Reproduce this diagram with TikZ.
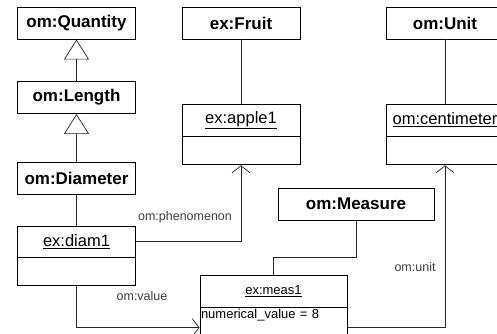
\documentclass[tikz,border=0pt]{standalone}
\usepackage{fontspec}
\setmainfont{Liberation Sans}
\usepackage{tikz}
\usetikzlibrary{positioning, calc, arrows, arrows.meta}
\tikzset{>=latex}

\begin{document}
\begin{tikzpicture}[x=1pt,y=-1pt,
    cls/.style={draw,line width=0.9pt,minimum width=118pt,minimum height=32pt,inner sep=0pt,font=\fontsize{17}{19}\selectfont\bfseries},
    inst/.style={draw,line width=0.9pt,minimum width=118pt,minimum height=32pt,inner sep=0pt,font=\fontsize{16.5}{18}\selectfont},
    body/.style={draw,line width=0.9pt,minimum width=118pt,minimum height=28pt,inner sep=0pt},
    lbl/.style={inner sep=0pt,text=black!75,font=\fontsize{12.5}{14}\selectfont},
    link/.style={line width=0.7pt,draw=black!85},
    isa/.style={link,-{Triangle[open,length=20pt,width=25pt,line width=0.7pt]}},
    rel/.style={link,-{Straight Barb[length=7pt,width=18pt,line width=0.7pt]}}]
    \clip (0,0) rectangle (497,333);
    \fill[white] (0,0) rectangle (497,333);
    % classes
    \node[cls] (Quantity) at (76.5,23) {om:Quantity};
    \node[cls] (Length) at (76.5,97.5) {om:Length};
    \node[cls] (Diameter) at (76.5,178.5) {om:Diameter};
    \node[cls] (Fruit) at (241,23) {ex:Fruit};
    \node[cls] (Unit) at (445,23) {om:Unit};
    \node[cls,minimum width=156pt] (Measure) at (356,204) {om:Measure};
    % instances
    \node[inst,minimum height=31pt] (diam) at (76.5,241.5) {\underline{ex:diam1}};
    \node[body,below=0pt of diam] (diamBody) {};
    \node[inst] (apple) at (241,120) {\underline{ex:apple1}};
    \node[body,below=0pt of apple] (appleBody) {};
    \node[inst] (cm) at (445,120) {\underline{om:centimeter}};
    \node[body,below=0pt of cm] (cmBody) {};
    \node[inst,minimum width=147pt,font=\fontsize{13}{15}\selectfont] (meas) at (273.5,291) {\underline{ex:meas1}};
    \node[body,minimum width=147pt,minimum height=30pt,below=0pt of meas,font=\fontsize{13}{15}\selectfont,
          text width=145pt,align=left,inner sep=1pt] (measBody) {numerical\_value = 8\\[13pt]\mbox{}};
    % labels
    \node[lbl] (phenLbl) at (185,217) {om:phenomenon};
    \node[lbl] (valueLbl) at (142,296) {om:value};
    \node[lbl] (unitLbl) at (415,267) {om:unit};
    % links
    \path[isa] (Length) edge (Quantity)
               (Diameter) edge (Length);
    \path[link] (Diameter) edge (diam)
                (Fruit) edge (apple)
                (Unit) edge (cm);
    \draw[link] (Measure.south) -- ++(0,37) -| (meas.north);
    \draw[rel] (diam.east) -| (appleBody.south);
    \draw[rel] (diamBody.south) |- (measBody.west);
    \draw[rel] (measBody.east) -| (cmBody.south);
\end{tikzpicture}
\end{document}
